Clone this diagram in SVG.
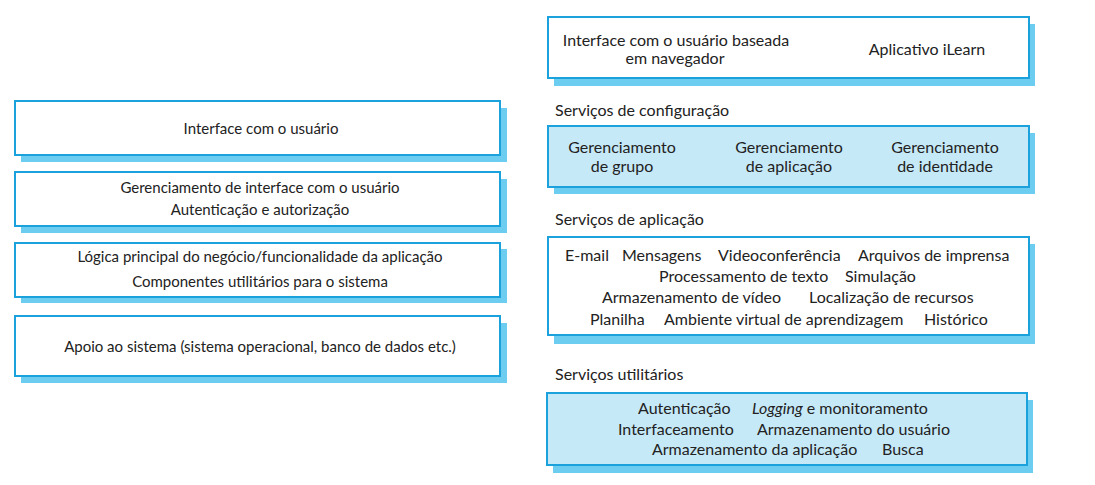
<svg xmlns="http://www.w3.org/2000/svg" width="1095" height="485" viewBox="0 0 1095 485">
<style>
.shadow{fill:#6dcdf1;stroke:none}
.box{fill:#ffffff;stroke:#1ba2dc;stroke-width:2}
.fbox{fill:#c6e9f8;stroke:#1ba2dc;stroke-width:2}
text{font-family:Lato,"Liberation Sans",sans-serif;fill:#222;dominant-baseline:central}
.l{font-size:15px;text-anchor:middle}
.r{font-size:16px}
.rc{font-size:16px;text-anchor:middle}
</style>
<rect width="1095" height="485" fill="#fff"/>
<g id="left-ui">
<rect class="shadow" x="21" y="108" width="486" height="54"/>
<rect class="box" x="15" y="101" width="485" height="54"/>
<text class="l" x="261" y="128">Interface com o usuário</text>
</g>
<g id="left-uimgmt">
<rect class="shadow" x="21" y="179" width="486" height="54"/>
<rect class="box" x="15" y="172" width="485" height="54"/>
<text class="l" x="260" y="187">Gerenciamento de interface com o usuário</text>
<text class="l" x="260" y="209">Autenticação e autorização</text>
</g>
<g id="left-logic">
<rect class="shadow" x="21" y="249" width="486" height="54"/>
<rect class="box" x="15" y="243" width="485" height="54"/>
<text class="l" x="260" y="256">Lógica principal do negócio/funcionalidade da aplicação</text>
<text class="l" x="260" y="281">Componentes utilitários para o sistema</text>
</g>
<g id="left-support">
<rect class="shadow" x="21" y="323" width="486" height="60"/>
<rect class="box" x="15" y="316" width="485" height="60"/>
<text class="l" x="260" y="346">Apoio ao sistema (sistema operacional, banco de dados etc.)</text>
</g>
<g id="r-ui">
<rect class="shadow" x="554" y="24" width="481" height="62"/>
<rect class="box" x="548" y="17" width="481" height="61"/>
<text class="rc" x="676" y="39">Interface com o usuário baseada</text>
<text class="rc" x="675" y="57">em navegador</text>
<text class="rc" x="927" y="48">Aplicativo iLearn</text>
</g>
<g id="r-config">
<text class="r" x="555" y="109">Serviços de configuração</text>
<rect class="shadow" x="554" y="133" width="481" height="61"/>
<rect class="fbox" x="548" y="126" width="481" height="61"/>
<text class="rc" x="622" y="146">Gerenciamento</text>
<text class="rc" x="622" y="165">de grupo</text>
<text class="rc" x="789" y="146">Gerenciamento</text>
<text class="rc" x="789" y="165">de aplicação</text>
<text class="rc" x="945" y="146">Gerenciamento</text>
<text class="rc" x="945" y="165">de identidade</text>
</g>
<g id="r-app">
<text class="r" x="555" y="218">Serviços de aplicação</text>
<rect class="shadow" x="554" y="244" width="481" height="100"/>
<rect class="box" x="548" y="237" width="481" height="98"/>
<text class="r" y="254"><tspan x="565">E-mail</tspan><tspan x="622">Mensagens</tspan><tspan x="718">Videoconferência</tspan><tspan x="858">Arquivos de imprensa</tspan></text>
<text class="r" y="275"><tspan x="659">Processamento de texto</tspan><tspan x="845">Simulação</tspan></text>
<text class="r" y="296"><tspan x="602">Armazenamento de vídeo</tspan><tspan x="809">Localização de recursos</tspan></text>
<text class="r" y="318"><tspan x="590">Planilha</tspan><tspan x="664">Ambiente virtual de aprendizagem</tspan><tspan x="924">Histórico</tspan></text>
</g>
<g id="r-util">
<text class="r" x="555" y="373">Serviços utilitários</text>
<rect class="shadow" x="553" y="400" width="480" height="73"/>
<rect class="fbox" x="547" y="393" width="480" height="72"/>
<text class="r" y="407"><tspan x="638">Autenticação</tspan><tspan x="752" font-style="italic">Logging</tspan><tspan> e monitoramento</tspan></text>
<text class="r" y="428"><tspan x="618">Interfaceamento</tspan><tspan x="757">Armazenamento do usuário</tspan></text>
<text class="r" y="448"><tspan x="652">Armazenamento da aplicação</tspan><tspan x="882">Busca</tspan></text>
</g>
</svg>
